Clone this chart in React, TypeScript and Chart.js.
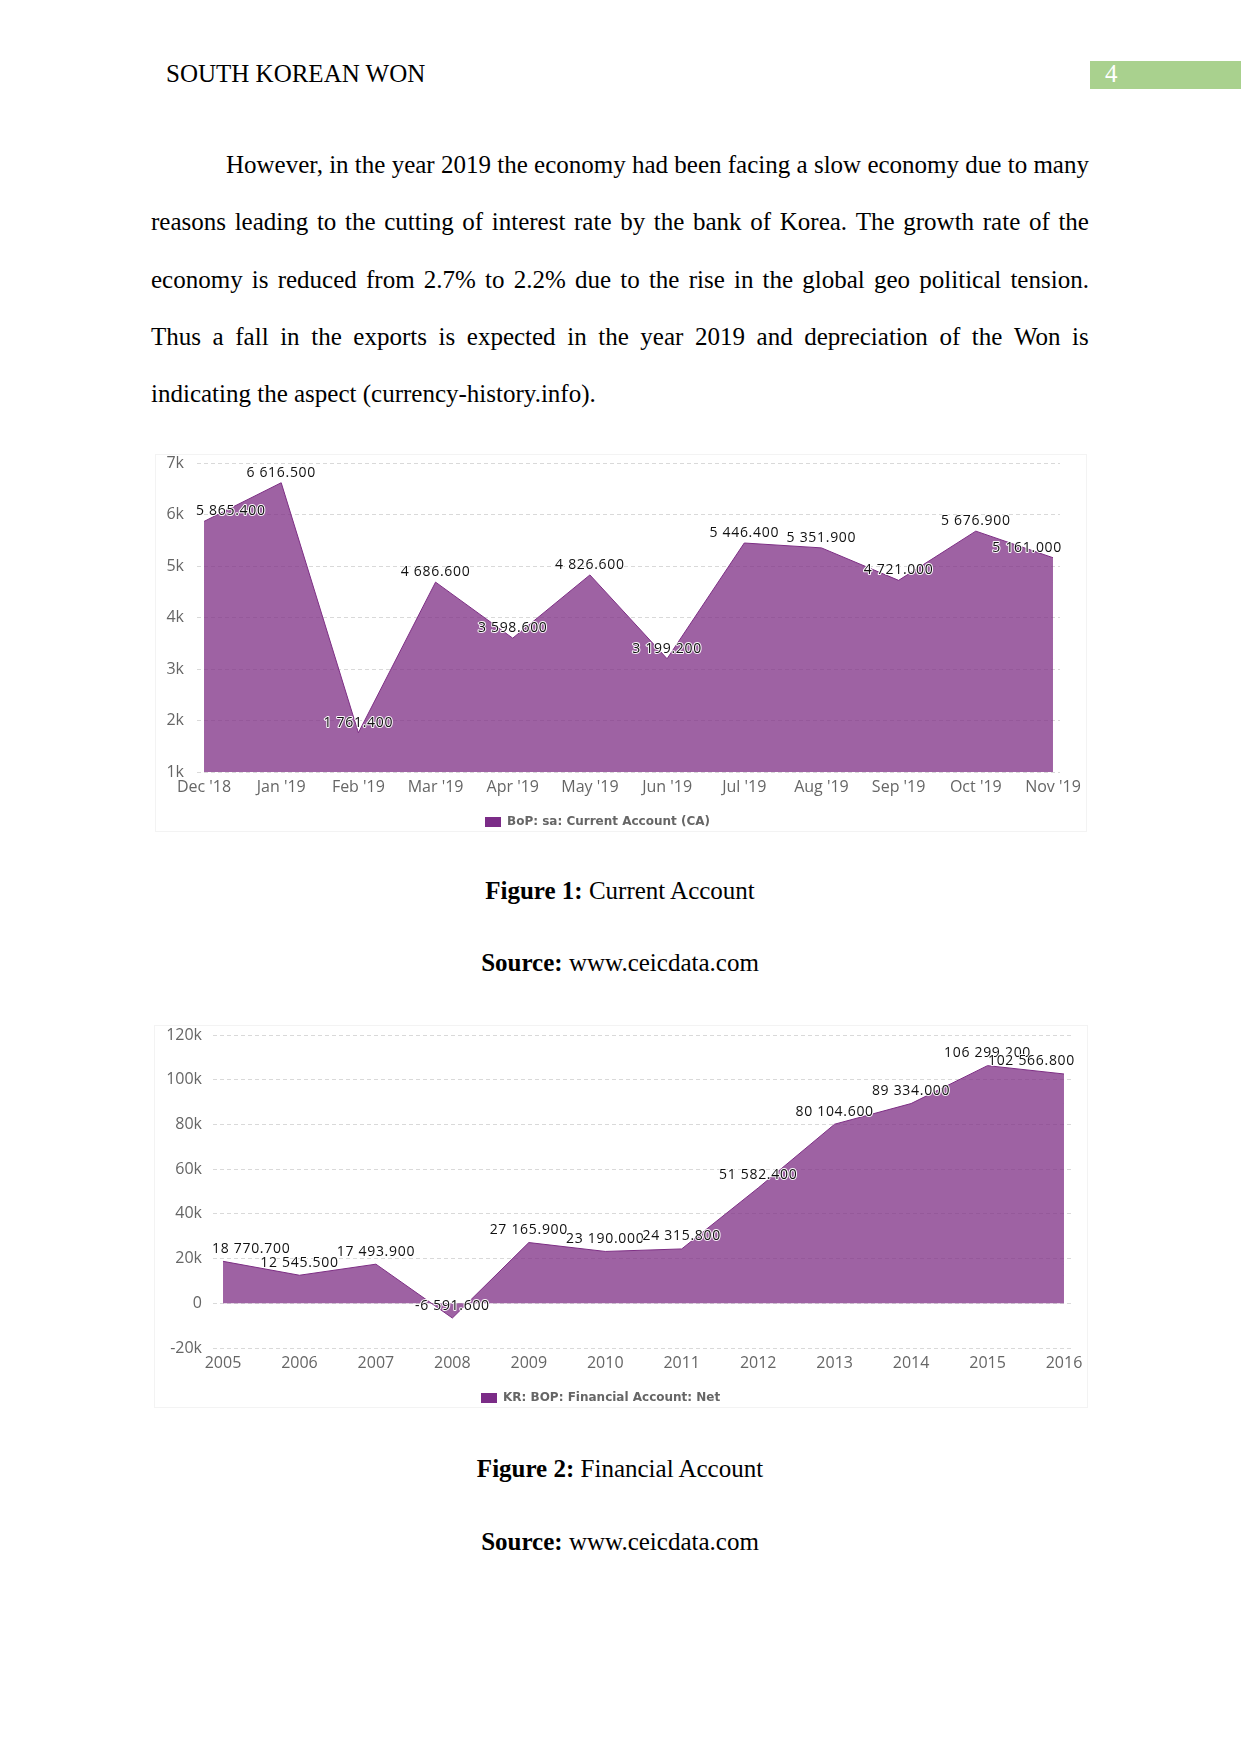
import React, { useEffect, useRef } from "react";
import { Chart, registerables } from "chart.js";

Chart.register(...registerables);

// ---- Data: Figure 1 (Current Account) ----
const caMonths = ["Dec '18", "Jan '19", "Feb '19", "Mar '19", "Apr '19", "May '19", "Jun '19", "Jul '19", "Aug '19", "Sep '19", "Oct '19", "Nov '19"];
const caValues = [5865.4, 6616.5, 1761.4, 4686.6, 3598.6, 4826.6, 3199.2, 5446.4, 5351.9, 4721.0, 5676.9, 5161.0];
const caYTicks = [1000, 2000, 3000, 4000, 5000, 6000, 7000];
const caSeriesName = "BoP: sa: Current Account (CA)";

// ---- Data: Figure 2 (Financial Account) ----
const faYears = ["2005", "2006", "2007", "2008", "2009", "2010", "2011", "2012", "2013", "2014", "2015", "2016"];
const faValues = [18770.7, 12545.5, 17493.9, -6591.6, 27165.9, 23190.0, 24315.8, 51582.4, 80104.6, 89334.0, 106299.2, 102566.8];
const faYTicks = [-20000, 0, 20000, 40000, 60000, 80000, 100000, 120000];
const faSeriesName = "KR: BOP: Financial Account: Net";

// ---- Text ----
const headerText = "SOUTH KOREAN WON";
const pageNumber = "4";
const bodyLines = [
  "However, in the year 2019 the economy had been facing a slow economy due to many",
  "reasons leading to the cutting of interest rate by the bank of Korea. The growth rate of the",
  "economy is reduced from 2.7% to 2.2% due to the rise in the global geo political tension.",
  "Thus a fall in the exports is expected in the year 2019 and depreciation of the Won is",
  "indicating the aspect (currency-history.info).",
];

const SERIES_COLOR = "#7d2e84";
const FILL_COLOR = "rgba(125,46,132,0.75)";
const LEGEND_COLOR = "#7b2c87";
const TICK_FONT = "Open Sans";

function fmtValue(v: number): string {
  const neg = v < 0;
  const [i, d] = Math.abs(v).toFixed(3).split(".");
  const ii = i.replace(/\B(?=(\d{3})+(?!\d))/g, " ");
  return (neg ? "-" : "") + ii + "." + d;
}
function fmtK(v: number): string {
  if (v === 0) return "0";
  return v / 1000 + "k";
}

type ChartSpec = {
  labels: string[];
  values: number[];
  yTicks: number[];
  name: string;
  width: number;
  height: number;
  xMin: number;
  xMax: number;
  yWidth: number;
  yPad: number;
  padRight: number;
  fill: string;
  legendX: number;
  legendY: number;
  textGap: number;
  labelLift: number;
};

function AreaChart({ spec }: { spec: ChartSpec }) {
  const ref = useRef<HTMLCanvasElement | null>(null);
  useEffect(() => {
    if (!ref.current) return;
    const s = spec;
    const labelPlugin = {
      id: "valueLabels",
      afterDatasetsDraw(chart: any) {
        const ctx = chart.ctx;
        const meta = chart.getDatasetMeta(0);
        const area = chart.chartArea;
        ctx.save();
        ctx.font = '14px "Open Sans"';
        try {
          (ctx as any).letterSpacing = "0.7px";
        } catch (e) {}
        ctx.textBaseline = "alphabetic";
        ctx.textAlign = "left";
        ctx.lineJoin = "round";
        meta.data.forEach((pt: any, i: number) => {
          const txt = fmtValue(s.values[i]);
          const w = ctx.measureText(txt).width;
          let x = pt.x - w / 2;
          x = Math.max(area.left - 1, Math.min(x, area.right + 2 - w));
          const y = pt.y - s.labelLift;
          ctx.strokeStyle = "rgba(255,255,255,0.95)";
          ctx.lineWidth = 2;
          ctx.strokeText(txt, x, y);
          ctx.fillStyle = "#111";
          ctx.fillText(txt, x, y);
        });
        ctx.restore();
      },
    };
    const legendPlugin = {
      id: "customLegend",
      afterDraw(chart: any) {
        const ctx = chart.ctx;
        ctx.save();
        ctx.fillStyle = LEGEND_COLOR;
        ctx.fillRect(s.legendX, s.legendY - 5, 16, 10);
        ctx.font = 'bold 12px "DejaVu Sans"';
        ctx.fillStyle = "#666";
        ctx.textBaseline = "middle";
        ctx.textAlign = "left";
        ctx.fillText(chart.data.datasets[0].label, s.legendX + s.textGap, s.legendY);
        ctx.restore();
      },
    };
    const chart = new Chart(ref.current, {
      type: "line",
      data: {
        datasets: [
          {
            label: s.name,
            data: s.values.map((v, i) => ({ x: i, y: v })),
            borderColor: SERIES_COLOR,
            borderWidth: 1,
            backgroundColor: FILL_COLOR,
            fill: s.fill as any,
            pointRadius: 0,
            tension: 0,
          },
        ],
      },
      options: {
        responsive: false,
        animation: false,
        layout: { padding: { left: 0, top: 10, right: s.padRight, bottom: 0 } },
        plugins: { legend: { display: false }, tooltip: { enabled: false } },
        scales: {
          x: {
            type: "linear",
            min: s.xMin,
            max: s.xMax,
            afterBuildTicks: (sc: any) => {
              sc.ticks = s.labels.map((_, i) => ({ value: i }));
            },
            ticks: {
              callback: (v: any) => s.labels[Math.round(Number(v))] ?? "",
              color: "#666",
              font: { family: TICK_FONT, size: 16 },
              padding: 6,
              maxRotation: 0,
              autoSkip: false,
            },
            grid: { display: false, drawTicks: false },
            border: { display: false },
            afterFit: (sc: any) => {
              sc.height = 60;
              sc.paddingLeft = 0;
              sc.paddingRight = 0;
            },
          },
          y: {
            type: "linear",
            min: s.yTicks[0],
            max: s.yTicks[s.yTicks.length - 1],
            afterBuildTicks: (sc: any) => {
              sc.ticks = s.yTicks.map((v) => ({ value: v }));
            },
            ticks: {
              callback: (v: any) => fmtK(Number(v)),
              color: "#666",
              font: { family: TICK_FONT, size: 16 },
              padding: s.yPad,
            },
            grid: { color: "#d9d9d9", drawTicks: false, lineWidth: 1 },
            border: { display: false, dash: [4, 3] },
            afterFit: (sc: any) => {
              sc.width = s.yWidth;
              sc.paddingTop = 0;
              sc.paddingBottom = 0;
            },
          },
        },
      },
      plugins: [labelPlugin, legendPlugin],
    });
    return () => chart.destroy();
  }, [spec]);
  return <canvas ref={ref} width={spec.width} height={spec.height} style={{ display: "block", width: spec.width, height: spec.height }} />;
}

const chart1Spec: ChartSpec = {
  labels: caMonths,
  values: caValues,
  yTicks: caYTicks,
  name: caSeriesName,
  width: 935,
  height: 379,
  xMin: -0.091,
  xMax: 11.091,
  yWidth: 45,
  yPad: 13,
  padRight: 27,
  fill: "start",
  legendX: 333,
  legendY: 369,
  textGap: 22,
  labelLift: 6,
};

const chart2Spec: ChartSpec = {
  labels: faYears,
  values: faValues,
  yTicks: faYTicks,
  name: faSeriesName,
  width: 937,
  height: 383,
  xMin: -0.131,
  xMax: 11.118,
  yWidth: 61,
  yPad: 11,
  padRight: 16,
  fill: "origin",
  legendX: 329,
  legendY: 373,
  textGap: 22,
  labelLift: 8.5,
};

const serif = '"Liberation Serif", "Times New Roman", serif';

function JustifiedLine({ text, left, top, right }: { text: string; left: number; top: number; right: number }) {
  const words = text.split(" ");
  return (
    <div
      style={{
        position: "absolute",
        left,
        top,
        width: right - left,
        display: "flex",
        justifyContent: "space-between",
        whiteSpace: "nowrap",
        fontSize: 25,
        lineHeight: "30px",
      }}
    >
      {words.map((w, i) => (
        <span key={i}>{w}</span>
      ))}
    </div>
  );
}

function Caption({ bold, rest, top }: { bold: string; rest: string; top: number }) {
  return (
    <div style={{ position: "absolute", left: 0, width: 1240, top, textAlign: "center", fontSize: 25, lineHeight: "30px" }}>
      <b>{bold}</b> {rest}
    </div>
  );
}

export default function App() {
  const baselines = [173.3, 230.7, 288.1, 345.5, 402.9];
  const off = 23.44;
  return (
    <div style={{ position: "absolute", left: 0, top: 0, width: 1241, height: 1754, background: "#fff", fontFamily: serif, color: "#000", overflow: "hidden" }}>
      <div style={{ position: "absolute", left: 166, top: 82.7 - off, fontSize: 25, lineHeight: "30px", whiteSpace: "nowrap" }}>{headerText}</div>
      <div style={{ position: "absolute", left: 1090, top: 61, width: 151, height: 28, background: "#a9d18e" }} />
      <div style={{ position: "absolute", left: 1105, top: 82.7 - off, fontSize: 25, lineHeight: "30px", color: "#fff" }}>{pageNumber}</div>

      {bodyLines.slice(0, 4).map((t, i) => (
        <JustifiedLine key={i} text={t} left={i === 0 ? 226 : 151} right={1089} top={baselines[i] - off} />
      ))}
      <div style={{ position: "absolute", left: 151, top: baselines[4] - off, fontSize: 25, lineHeight: "30px", whiteSpace: "nowrap" }}>{bodyLines[4]}</div>

      <div style={{ position: "absolute", left: 155, top: 454, width: 930, height: 376, border: "1px solid #f3f3f3" }} />
      <div style={{ position: "absolute", left: 152, top: 453 }}>
        <AreaChart spec={chart1Spec} />
      </div>
      <Caption bold="Figure 1:" rest="Current Account" top={899 - off} />
      <Caption bold="Source:" rest="www.ceicdata.com" top={971.7 - off} />

      <div style={{ position: "absolute", left: 154, top: 1025, width: 932, height: 381, border: "1px solid #f3f3f3" }} />
      <div style={{ position: "absolute", left: 152, top: 1025 }}>
        <AreaChart spec={chart2Spec} />
      </div>
      <Caption bold="Figure 2:" rest="Financial Account" top={1477.5 - off} />
      <Caption bold="Source:" rest="www.ceicdata.com" top={1550.2 - off} />
    </div>
  );
}
